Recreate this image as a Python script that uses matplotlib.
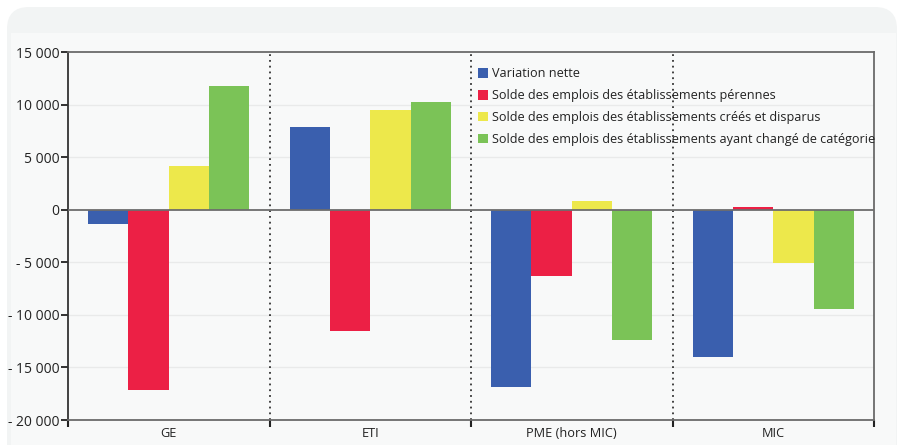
import numpy as np
import matplotlib
matplotlib.use("Agg")
import matplotlib.pyplot as plt
from matplotlib.patches import FancyBboxPatch, Rectangle
from matplotlib.ticker import FuncFormatter, FixedLocator

plt.rcParams['font.family'] = ['Open Sans', 'DejaVu Sans']

# =====================================
# DATA
# =====================================
categories = ["GE", "ETI", "PME (hors MIC)", "MIC"]
series_names = [
    "Variation nette",
    "Solde des emplois des établissements pérennes",
    "Solde des emplois des établissements créés et disparus",
    "Solde des emplois des établissements ayant changé de catégorie",
]
variation_nette = [-1400, 7850, -16900, -14000]
solde_perennes = [-17150, -11550, -6300, 230]
solde_crees_disparus = [4150, 9450, 800, -5100]
solde_changement = [11750, 10200, -12400, -9480]
yticks = [15000, 10000, 5000, 0, -5000, -10000, -15000, -20000]

colors = ["#3a5fae", "#ec2045", "#ede84b", "#7bc357"]

# =====================================
# FIGURE + CARD BACKGROUND
# =====================================
fig = plt.figure(figsize=(9.01, 4.45), dpi=100)
fig.patch.set_facecolor("white")

# card in inches (dpi 100 -> 1px = 0.01in)
card = FancyBboxPatch((0.07, -0.5), 8.90, 4.88,
                      boxstyle="round,pad=0,rounding_size=0.22",
                      transform=fig.dpi_scale_trans, facecolor="#f2f4f4",
                      edgecolor="none", zorder=-2)
fig.add_artist(card)
inner = Rectangle((0.11, 0.0), 8.85, 4.12,
                  transform=fig.dpi_scale_trans, facecolor="#f8f9f9",
                  edgecolor="none", zorder=-1)
fig.add_artist(inner)

ax = fig.add_axes([68 / 901, 1 - 420 / 445, 806 / 901, 368 / 445])
ax.set_zorder(1)
ax.set_facecolor("none")

x = np.arange(len(categories))
width = 0.2
all_series = [variation_nette, solde_perennes, solde_crees_disparus, solde_changement]
for i, (vals, name, col) in enumerate(zip(all_series, series_names, colors)):
    ax.bar(x - 0.3 + i * width, vals, width, color=col, label=name, zorder=3)

ax.set_xlim(-0.5, len(categories) - 0.5)
ax.set_ylim(-20000, 15000)

# grid / separators
for yv in yticks:
    if yv not in (0, 15000, -20000):
        ax.axhline(yv, color="#e9eaea", lw=1, zorder=1)
ax.axhline(0, color="#6d6d6d", lw=1.3, zorder=4)
for sep in [0.5, 1.5, 2.5]:
    ax.axvline(sep, color="#333333", lw=1.3, linestyle=(0, (1, 2.2)), zorder=2)

# axes styling
for s in ax.spines.values():
    s.set_color("#6b6b6b")
    s.set_linewidth(1.3)
ax.spines["left"].set_color("#333333")
ax.set_yticks(yticks)
ax.yaxis.set_major_formatter(FuncFormatter(
    lambda v, p: ("- " if v < 0 else "") + f"{abs(int(v)):,}".replace(",", " ")))
ax.tick_params(axis="y", length=5, width=1.3, color="#222222", pad=1,
               labelsize=10, labelcolor="#222222")

ax.set_xticks(x)
ax.set_xticklabels(categories)
ax.tick_params(axis="x", which="major", length=0, pad=5, labelsize=9.2,
               labelcolor="#222222")
ax.xaxis.set_minor_locator(FixedLocator([-0.5, 0.5, 1.5, 2.5, 3.5]))
ax.tick_params(axis="x", which="minor", length=5, width=1.5, color="#222222")

leg = ax.legend(loc="upper left", bbox_to_anchor=(0.509, 0.958), frameon=False,
                fontsize=9.1, handlelength=0.75, handleheight=0.75,
                handletextpad=0.35, labelspacing=0.7, borderpad=0,
                borderaxespad=0)
for t in leg.get_texts():
    t.set_color("#222222")

fig.savefig("out.png", dpi=100, facecolor=fig.get_facecolor())
